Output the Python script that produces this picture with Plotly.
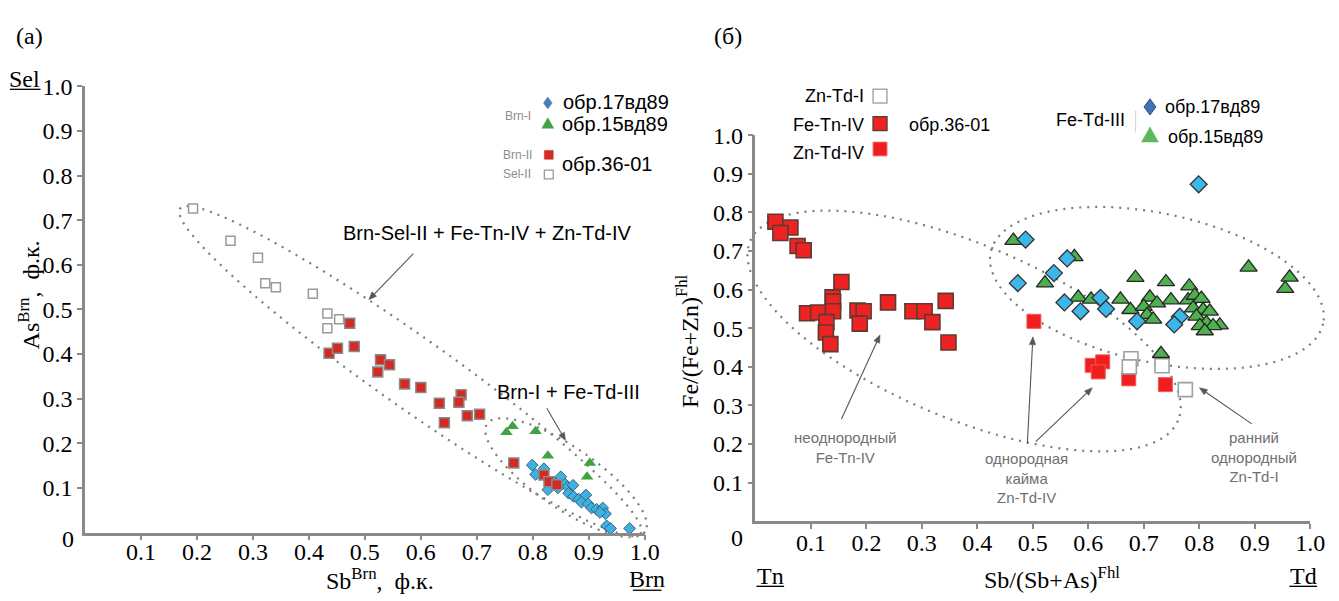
import numpy as np
import plotly.graph_objects as go

W, H = 1339, 601

# ---------------- DATA : panel (a)  Sb^Brn vs As^Brn ----------------
a_sel2_x = [0.193, 0.260, 0.309, 0.322, 0.341, 0.407, 0.433, 0.454, 0.433]
a_sel2_y = [0.726, 0.654, 0.616, 0.559, 0.550, 0.535, 0.491, 0.478, 0.458]

a_brn2_x = [0.473, 0.436, 0.451, 0.481, 0.528, 0.544, 0.523, 0.571, 0.600, 0.672,
            0.633, 0.668, 0.683, 0.705, 0.642, 0.766, 0.820, 0.829, 0.843]
a_brn2_y = [0.469, 0.402, 0.413, 0.417, 0.387, 0.376, 0.360, 0.333, 0.325, 0.309,
            0.290, 0.292, 0.262, 0.265, 0.246, 0.156, 0.129, 0.114, 0.107]

a_s15_x = [0.753, 0.764, 0.805, 0.827, 0.902, 0.897]
a_s15_y = [0.225, 0.238, 0.227, 0.172, 0.156, 0.125]

a_s17_x = [0.799, 0.805, 0.820, 0.827, 0.837, 0.855, 0.862, 0.872, 0.864, 0.873,
           0.882, 0.895, 0.887, 0.899, 0.905, 0.914, 0.925, 0.930, 0.920, 0.932,
           0.939, 0.973, 0.845, 0.850]
a_s17_y = [0.151, 0.130, 0.143, 0.096, 0.112, 0.112, 0.102, 0.106, 0.088, 0.081,
           0.075, 0.084, 0.068, 0.064, 0.055, 0.052, 0.055, 0.042, 0.045, 0.015,
           0.009, 0.009, 0.100, 0.125]

# ---------------- DATA : panel (б)  Sb/(Sb+As) vs Fe/(Fe+Zn) ----------------
b_tn4_x = [0.036, 0.063, 0.045, 0.076, 0.087, 0.155, 0.139, 0.140, 0.093, 0.113,
           0.140, 0.128, 0.127, 0.135, 0.184, 0.195, 0.188, 0.239, 0.283, 0.305,
           0.319, 0.343, 0.348]
b_tn4_y = [0.776, 0.761, 0.747, 0.713, 0.702, 0.620, 0.580, 0.569, 0.539, 0.541,
           0.544, 0.516, 0.489, 0.459, 0.546, 0.544, 0.512, 0.567, 0.544, 0.544,
           0.516, 0.571, 0.463]

b_td4_x = [0.502, 0.607, 0.626, 0.618, 0.673, 0.739]
b_td4_y = [0.518, 0.404, 0.413, 0.387, 0.369, 0.354]

b_td1_x = [0.677, 0.674, 0.733, 0.775]
b_td1_y = [0.421, 0.400, 0.403, 0.341]

b_s15_x = [0.465, 0.575, 0.522, 0.685, 0.740, 0.889, 0.963, 0.955, 0.782, 0.582,
           0.605, 0.658, 0.711, 0.676, 0.700, 0.724, 0.749, 0.706, 0.717, 0.780,
           0.792, 0.804, 0.789, 0.807, 0.819, 0.795, 0.813, 0.837, 0.825, 0.801,
           0.810, 0.731]
b_s15_y = [0.727, 0.685, 0.617, 0.631, 0.620, 0.658, 0.632, 0.603, 0.609, 0.580,
           0.575, 0.575, 0.580, 0.548, 0.556, 0.565, 0.573, 0.535, 0.523, 0.573,
           0.585, 0.577, 0.552, 0.548, 0.544, 0.531, 0.514, 0.508, 0.506, 0.506,
           0.493, 0.434]

b_s17_x = [0.487, 0.562, 0.538, 0.473, 0.557, 0.622, 0.632, 0.586, 0.688, 0.765,
           0.755, 0.799]
b_s17_y = [0.730, 0.681, 0.643, 0.617, 0.567, 0.579, 0.550, 0.544, 0.518, 0.530,
           0.510, 0.873]

tick_vals = [0.1, 0.2, 0.3, 0.4, 0.5, 0.6, 0.7, 0.8, 0.9, 1.0]
tick_text = ["0.1", "0.2", "0.3", "0.4", "0.5", "0.6", "0.7", "0.8", "0.9", "1.0"]

# ---------------- layout helpers (pixel geometry) ----------------
AX0, AX1, AY0, AY1 = 86, 652, 531, 75          # panel (a) plot area in px
BX0, BX1, BY0, BY1 = 764, 1325, 519.5, 125     # panel (б) plot area in px


def pp(px, py):
    return px / W, 1 - py / H


SERIF = "Liberation Serif, Times New Roman, serif"
SANS = "Liberation Sans, Arial, sans-serif"
AXC = "#8a8a8a"

fig = go.Figure()


def add_pts(x, y, ax, symbol, size, fill, lc, lw):
    fig.add_trace(go.Scatter(
        x=x, y=y, mode="markers", xaxis=ax[0], yaxis=ax[1], cliponaxis=False,
        showlegend=False, hoverinfo="x+y",
        marker=dict(symbol=symbol, size=size, color=fill,
                    line=dict(color=lc, width=lw))))


A = ("x", "y")
B = ("x2", "y2")

# panel (a)
add_pts(a_sel2_x, a_sel2_y, A, "square", 9, "white", "#9a9a9a", 1.5)
add_pts(a_s17_x, a_s17_y, A, "diamond", 9, "#3cb2e4", "#3d5f7a", 1)
add_pts(a_brn2_x, a_brn2_y, A, "square", 10, "#d42a24", "#8a8a8a", 1.5)
add_pts(a_s15_x, a_s15_y, A, "triangle-up", 11, "#3fa43f", "#3fa43f", 0)

# panel (б)
add_pts(b_tn4_x, b_tn4_y, B, "square", 15, "#ee2222", "#5e3b30", 1.6)
add_pts(b_td4_x, b_td4_y, B, "square", 14, "#f01e1e", "#f35a5a", 1)
add_pts(b_td1_x, b_td1_y, B, "square", 14, "white", "#a0a0a0", 1.6)
add_pts(b_s15_x, b_s15_y, B, "triangle-up", 15, "#4fb04f", "#262626", 1.3)
add_pts(b_s17_x, b_s17_y, B, "diamond", 13, "#3db6ea", "#333333", 1.3)

shapes = []


def poly(pts, fill, lc, lw):
    path = "M " + " L ".join("%.5f,%.5f" % pp(x, y) for x, y in pts) + " Z"
    shapes.append(dict(type="path", xref="paper", yref="paper", path=path,
                       fillcolor=fill, line=dict(color=lc, width=lw)))


# legend swatches drawn as paper shapes (pixel positions)
def swatch(px, py, kind, s, fill, lc, lw):
    h = s / 2
    if kind == "square":
        pts = [(px - h, py - h), (px + h, py - h), (px + h, py + h), (px - h, py + h)]
    elif kind == "diamond":
        pts = [(px, py - h * 1.1), (px + h * 0.8, py), (px, py + h * 1.1), (px - h * 0.8, py)]
    else:
        pts = [(px, py - h), (px + h, py + h * 0.8), (px - h, py + h * 0.8)]
    poly(pts, fill, lc, lw)


swatch(554, 92, "diamond", 11, "#4a7ebb", "#4a7ebb", 0.5)
swatch(554, 113, "triangle", 12, "#3fa43f", "#3fa43f", 0.5)
swatch(555, 145, "square", 9, "#d42a24", "#d42a24", 0.5)
swatch(555, 165, "square", 9, "white", "#9a9a9a", 1.3)

swatch(890, 85, "square", 14, "white", "#a8a8a8", 1.5)
swatch(890, 113, "square", 14, "#ee2222", "#6a3a30", 1.5)
swatch(890, 139, "square", 14, "#f01e1e", "#f35a5a", 1)
swatch(1163, 96, "diamond", 15, "#3f72b4", "#2f4f78", 1)
swatch(1163, 125, "triangle", 17, "#5cb85c", "#5cb85c", 0.5)


# ---------------- dotted ellipses ----------------
def ellipse_path(cx, cy, a, b, ang, n=160):
    t = np.linspace(0, 2 * np.pi, n)
    th = np.radians(ang)
    xs = cx + a * np.cos(t) * np.cos(th) - b * np.sin(t) * np.sin(th)
    ys = cy + a * np.cos(t) * np.sin(th) + b * np.sin(t) * np.cos(th)
    return "M " + " L ".join("%.5f,%.5f" % pp(x, y) for x, y in zip(xs, ys)) + " Z"


for (cx, cy, a, b, ang) in [(415, 366, 286, 36, 35.5),
                            (572.5, 475, 97, 31, 34.7),
                            (975, 325, 235, 89, 23),
                            (1170, 281, 172, 76, 12.3)]:
    shapes.append(dict(type="path", xref="paper", yref="paper",
                       path=ellipse_path(cx, cy, a, b, ang), layer="below",
                       line=dict(color="#7a7a7a", width=2.2, dash="2px,6px")))


def seg(x0, y0, x1, y1, color="black", w=1.3):
    X0, Y0 = pp(x0, y0)
    X1, Y1 = pp(x1, y1)
    shapes.append(dict(type="line", xref="paper", yref="paper", x0=X0, x1=X1,
                       y0=Y0, y1=Y1, line=dict(color=color, width=w)))


# pointer arrows: line + small filled head
def arrow(hx, hy, tx, ty, color="#555555"):
    d = np.hypot(hx - tx, hy - ty)
    ux, uy = (hx - tx) / d, (hy - ty) / d
    L, Wd = 8, 3.2
    bx, by = hx - ux * L, hy - uy * L
    seg(tx, ty, bx, by, color, 1.1)
    poly([(hx, hy), (bx - uy * Wd, by + ux * Wd), (bx + uy * Wd, by - ux * Wd)],
         color, color, 0.5)


arrow(373, 293, 418, 246)
arrow(572, 437, 553, 404)
arrow(890, 329, 851, 415)
arrow(1044.6, 331, 1039, 440)
arrow(1104.7, 383, 1047.5, 438)
arrow(1213, 383, 1266, 420)

# underlines and separator
seg(10, 78, 41, 78)
seg(640, 590, 669, 590)
seg(765, 586, 793, 586)
seg(1304, 586, 1332, 586)
seg(1148.5, 100, 1148.5, 122, "#d0d0d0", 1)

# ---------------- text annotations ----------------
ann = []


def txt(px, py, text, size, family=SANS, color="black", xanchor="center",
        angle=0, align="center"):
    x, y = pp(px, py)
    ann.append(dict(x=x, y=y, xref="paper", yref="paper", text=text,
                    showarrow=False, xanchor=xanchor, yanchor="middle",
                    textangle=angle, align=align,
                    font=dict(size=size, family=family, color=color)))


txt(30, 24, "(a)", 24, SERIF)
txt(736, 23, "(б)", 24, SERIF)
txt(25, 67, "Sel", 24, SERIF)
txt(654, 579, "Brn", 24, SERIF)
txt(779, 575, "Tn", 24, SERIF)
txt(1318, 575, "Td", 24, SERIF)
txt(69, 538, "0", 24, SERIF)
txt(745, 537, "0", 24, SERIF)

txt(384, 579, "Sb<sup>Brn</sup>,  ф.к.", 24, SERIF)
txt(29, 288, "As<sup>Brn</sup>,  ф.к.", 24, SERIF, angle=-90)
txt(1064, 577, "Sb/(Sb+As)<sup>Fhl</sup>", 24, SERIF)
txt(695, 335, "Fe/(Fe+Zn)<sup>Fhl</sup>", 24, SERIF, angle=-90)

# panel (a) labels
txt(493, 225, "Brn-Sel-II + Fe-Tn-IV + Zn-Td-IV", 20)
txt(575, 387, "Brn-I + Fe-Td-III", 20)

txt(524, 105, "Brn-I", 12, color="#8c8c8c")
txt(523, 145, "Brn-II", 12, color="#8c8c8c")
txt(523, 165, "Sel-II", 12, color="#8c8c8c")
txt(567, 91, "обр.17вд89", 20, xanchor="left")
txt(566, 113, "обр.15вд89", 20, xanchor="left")
txt(566, 154, "обр.36-01", 20, xanchor="left")

# panel (б) labels
txt(876, 85, "Zn-Td-I", 18, xanchor="right")
txt(876, 114, "Fe-Tn-IV", 18, xanchor="right")
txt(876, 143, "Zn-Td-IV", 18, xanchor="right")
txt(917, 114, "обр.36-01", 18, xanchor="left")
txt(1140, 109, "Fe-Td-III", 18, xanchor="right")
txt(1176, 96, "обр.17вд89", 18, xanchor="left")
txt(1179, 127, "обр.15вд89", 18, xanchor="left")

txt(855, 444, "неоднородный<br>Fe-Tn-IV", 15, color="#707070")
txt(1038, 475, "однородная<br>кайма<br>Zn-Td-IV", 15, color="#707070")
txt(1268, 454, "ранний<br>однородный<br>Zn-Td-I", 15, color="#707070")

axis_common = dict(range=[0, 1], showgrid=False, zeroline=False,
                   showline=True, linecolor=AXC, linewidth=2.5,
                   ticks="outside", ticklen=5, tickwidth=2, tickcolor=AXC,
                   tickvals=tick_vals, ticktext=tick_text,
                   tickfont=dict(family=SERIF, size=24, color="black"))

fig.update_layout(
    width=W, height=H, autosize=False,
    margin=dict(l=0, r=0, t=0, b=0),
    paper_bgcolor="white", plot_bgcolor="white",
    showlegend=False,
    xaxis=dict(domain=[AX0 / W, AX1 / W], anchor="y", ticklabelstandoff=-9,
               **axis_common),
    yaxis=dict(domain=[(H - AY0) / H, (H - AY1) / H], anchor="x", **axis_common),
    xaxis2=dict(domain=[BX0 / W, BX1 / W], anchor="y2", ticklabelstandoff=-7,
                **axis_common),
    yaxis2=dict(domain=[(H - BY0) / H, (H - BY1) / H], anchor="x2", **axis_common),
    shapes=shapes,
    annotations=ann,
)

fig.write_html("out.html")
